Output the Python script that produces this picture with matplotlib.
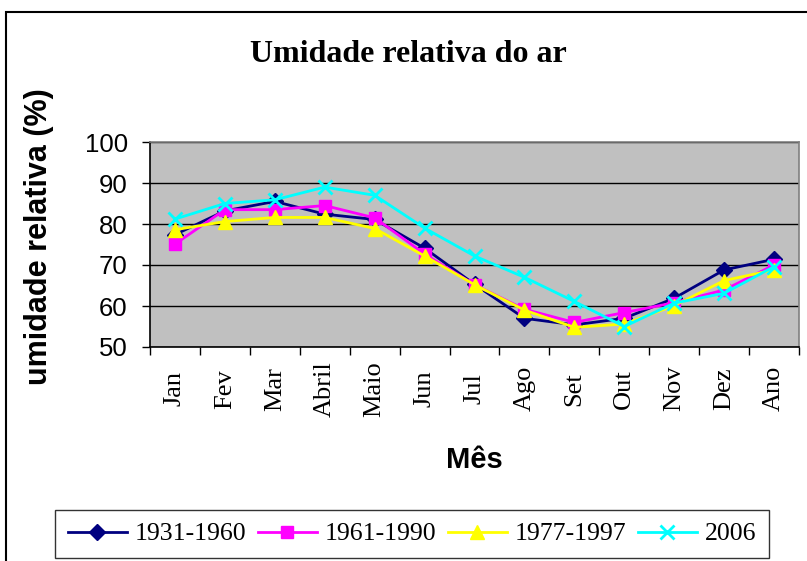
import numpy as np
from matplotlib import pyplot as plt
from matplotlib.patches import Rectangle

# Dados
meses = ["Jan", "Fev", "Mar", "Abril", "Maio", "Jun", "Jul",
         "Ago", "Set", "Out", "Nov", "Dez", "Ano"]
s1931_1960 = [77.4, 83.2, 85.5, 82.4, 81.1, 74.1, 65.3, 57.0, 55.4, 57.0, 61.9, 68.8, 71.4]
s1961_1990 = [75.1, 83.5, 83.5, 84.5, 81.5, 72.7, 65.2, 59.2, 56.0, 58.4, 60.8, 63.9, 70.0]
s1977_1997 = [78.6, 80.6, 81.6, 81.6, 78.9, 72.2, 65.2, 59.0, 54.8, 55.6, 60.1, 66.2, 68.8]
s2006 = [81.2, 85.0, 85.9, 89.0, 87.0, 79.0, 72.2, 67.0, 61.1, 55.0, 60.7, 63.1, 69.6]

series = [
    ("1931-1960", s1931_1960, "#000080", "D", 8, 1),
    ("1961-1990", s1961_1990, "#FF00FF", "s", 8.5, 1),
    ("1977-1997", s1977_1997, "#FFFF00", "^", 10, 1),
    ("2006", s2006, "#00FFFF", "x", 10, 2),
]

fig = plt.figure(figsize=(8.07, 5.61), dpi=100)
ax = fig.add_axes([150 / 807, 1 - 347 / 561, 649 / 807, 205 / 561])
ax.set_facecolor("#C0C0C0")

x = np.arange(len(meses))
for nome, vals, cor, mk, ms, mew in series:
    ax.plot(x, vals, color=cor, marker=mk, markersize=ms, markeredgewidth=mew,
            markeredgecolor=cor, markerfacecolor=cor, linewidth=2, label=nome)

ax.set_xlim(-0.5, len(meses) - 0.5)
ax.set_ylim(50, 100)
ax.set_yticks(range(50, 101, 10))
ax.yaxis.grid(True, color="black", linewidth=1)
ax.set_axisbelow(True)

# ticks entre categorias
ax.set_xticks(np.arange(-0.5, len(meses), 1))
ax.set_xticklabels([])
ax.set_xticks(x, minor=True)
ax.set_xticklabels(meses, minor=True, rotation=90, va="center",
                   fontfamily="Liberation Serif", fontsize=19)
ax.tick_params(axis="x", which="minor", length=0, pad=30)
ax.tick_params(axis="x", which="major", length=6, width=1, direction="out")
ax.tick_params(axis="y", length=6, width=1, direction="out", labelsize=18.5,
               pad=10)
for lbl in ax.get_yticklabels():
    lbl.set_fontfamily("Liberation Sans")

for s in ["top", "right"]:
    ax.spines[s].set_color("#808080")
for s in ["left", "bottom"]:
    ax.spines[s].set_color("black")
for s in ax.spines.values():
    s.set_linewidth(1.2)

ax.set_ylabel("umidade relativa (%)", fontfamily="Liberation Sans",
              fontweight="bold", fontsize=22)
ax.yaxis.set_label_coords(-96 / 649, 0.54)

fig.text(474 / 807, 1 - 460 / 561, "Mês", ha="center", va="center",
         fontfamily="Liberation Sans", fontweight="bold", fontsize=21)
fig.text(408 / 807, 1 - 55 / 561, "Umidade relativa do ar", ha="center",
         va="center", fontfamily="Liberation Serif", fontweight="bold",
         fontsize=23)

leg = fig.legend(loc="center", bbox_to_anchor=(412 / 807, 1 - 534 / 561),
                 ncol=4, frameon=True, fancybox=False, edgecolor="black",
                 prop={"family": "Liberation Serif", "size": 18.5},
                 handlelength=2.3, handletextpad=0.3, columnspacing=0.45,
                 borderpad=0.5, borderaxespad=0)
leg.get_frame().set_linewidth(1)

# borda externa do gráfico
fig.patches.append(Rectangle((6 / 807, -0.1), 1.2, 1.1 - 12 / 561,
                             transform=fig.transFigure, fill=False,
                             edgecolor="black", linewidth=1.5))

plt.savefig("out.png", dpi=100)
